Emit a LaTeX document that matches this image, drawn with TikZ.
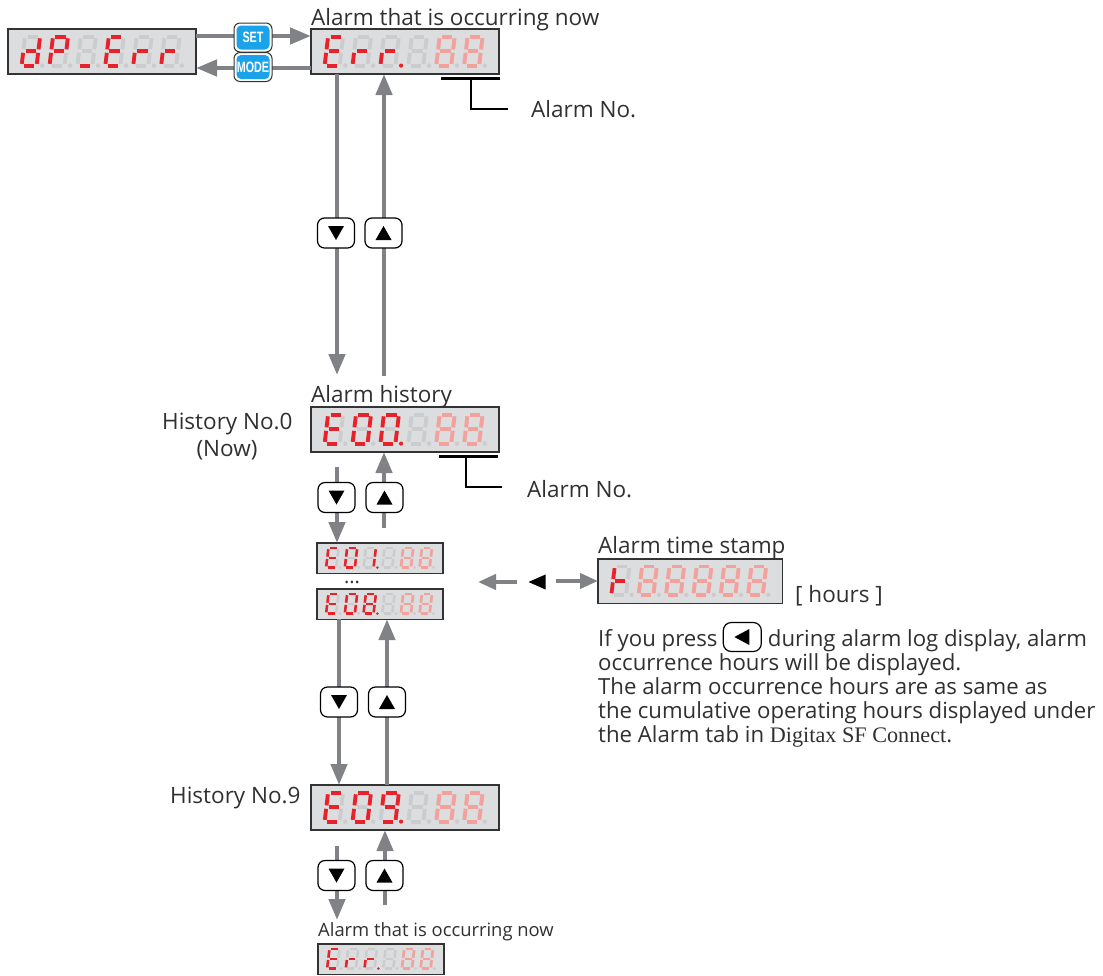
\documentclass[tikz,border=0pt]{standalone}
\usepackage{fontspec}
\setmainfont{Open Sans}
\newfontfamily\serifdg{Liberation Serif}
\newfontfamily\btnfont[FakeStretch=0.72]{Liberation Sans}
\usetikzlibrary{arrows.meta,calc}

\definecolor{segR}{HTML}{E8222A}
\definecolor{segP}{HTML}{F4A19C}
\definecolor{segN}{HTML}{CBCCCD}
\definecolor{dispbg}{HTML}{DCDDDE}
\definecolor{arrgray}{HTML}{808285}
\definecolor{btnblue}{HTML}{1AA3E8}
\definecolor{txt}{HTML}{303030}

\makeatletter
\def\seg@x#1{}
\def\seg@a#1{\draw[line width=\sd@T pt,#1] (0.16,1)--(0.84,1);}
\def\seg@b#1{\draw[line width=\sd@T pt,#1] (1,0.94)--(1,0.56);}
\def\seg@c#1{\draw[line width=\sd@T pt,#1] (1,0.44)--(1,0.06);}
\def\seg@d#1{\draw[line width=\sd@T pt,#1] (0.16,0)--(0.84,0);}
\def\seg@e#1{\draw[line width=\sd@T pt,#1] (0,0.44)--(0,0.06);}
\def\seg@f#1{\draw[line width=\sd@T pt,#1] (0,0.94)--(0,0.56);}
\def\seg@g#1{\draw[line width=\sd@T pt,#1] (0.16,0.5)--(0.84,0.5);}
\def\seg@p#1{\fill[#1] (1.38,0) circle[radius=0.55*\sd@T pt];}
\def\sd@loop#1{\ifx#1\relax\expandafter\@gobble\else\expandafter\@firstofone\fi
  {\csname seg@#1\endcsname{\sd@col}\sd@loop}}
\newcommand\sdigit[5]{%
  \begin{scope}[shift={(#1,#2)},x={(\sd@W pt,0pt)},y={(\sd@K pt,\sd@H pt)}]
    \foreach \q in {a,b,c,d,e,f,g,p}{\csname seg@\q\endcsname{segN}}
    \def\sd@col{#4}%
    \edef\sd@segs{#3}%
    \expandafter\sd@loop\sd@segs\relax
    \seg@p{#5}%
  \end{scope}}
\newcommand\sdisplay[5]{%
  \node[dispbox,minimum width=#4*188pt,minimum height=#4*45pt,anchor=north west] (#1) at (#2,#3) {};
  \pgfmathsetmacro\sd@W{15*#4}%
  \pgfmathsetmacro\sd@H{29*#4}%
  \pgfmathsetmacro\sd@K{3.5*#4}%
  \pgfmathsetmacro\sd@T{3.8*#4}%
  \pgfmathsetmacro\sd@pitch{27.9*#4}%
  \pgfmathsetmacro\sd@x{#2+13.6*#4}%
  \pgfmathsetmacro\sd@y{#3+36.6*#4}%
  \foreach \dS/\dC/\dD [count=\di from 0] in {#5}{%
    \pgfmathsetmacro\sd@xx{\sd@x+\di*\sd@pitch}%
    \sdigit{\sd@xx}{\sd@y}{\dS}{\dC}{\dD}}%
}
\makeatother

\newcommand\tridown[1]{\fill[black] ($(#1)+(-8,-7)$) -- ($(#1)+(8,-7)$) -- ($(#1)+(0,7)$) -- cycle;}
\newcommand\triup[1]{\fill[black] ($(#1)+(-8,7)$) -- ($(#1)+(8,7)$) -- ($(#1)+(0,-7)$) -- cycle;}
\newcommand\trileft[1]{\fill[black] ($(#1)+(7,-8)$) -- ($(#1)+(7,8)$) -- ($(#1)+(-8,0)$) -- cycle;}

\begin{document}
\begin{tikzpicture}[x=1pt,y=-1pt,
  dispbox/.style={draw=black!80,line width=1.2pt,fill=dispbg,inner sep=0pt,outer sep=0pt},
  garrow/.style={draw=arrgray,line width=4.5pt,-{Triangle[length=21pt,width=16pt]}},
  garrowb/.style={draw=arrgray,line width=4pt,-{Triangle[length=18pt,width=15pt]}},
  keybtn/.style={draw=black,line width=1.2pt,fill=white,rounded corners=7pt,minimum width=37pt,minimum height=30pt,inner sep=0pt},
  bluebtnout/.style={draw=black!80,line width=1pt,fill=white,rounded corners=6pt,minimum width=38pt,minimum height=29pt,inner sep=0pt},
  bluebtnin/.style={fill=btnblue,rounded corners=4.5pt,minimum width=33pt,minimum height=24pt,inner sep=0pt,text=white,font=\btnfont\bfseries\fontsize{15}{15}\selectfont},
  lbl/.style={font=\fontsize{22.5}{27}\selectfont,text=txt,inner sep=0pt,anchor=base west},
  para/.style={font=\fontsize{22.2}{24}\selectfont,text=txt,inner sep=0pt,anchor=base west},
  thick bar/.style={draw=black,line width=3pt},
  thin bar/.style={draw=black,line width=1.3pt}]
\useasboundingbox (0,0) rectangle (1103,975);

% displays
\sdisplay{d1}{8}{29}{1}{bcdeg/segR/segN,abefg/segR/segN,d/segR/segN,adefg/segR/segN,eg/segR/segN,eg/segR/segN}
\sdisplay{d2}{311}{29}{1}{adefg/segR/segN,eg/segR/segN,eg/segR/segR,x/segN/segN,abcdefg/segP/segN,abcdefg/segP/segN}
\sdisplay{d3}{311}{407}{1}{adefg/segR/segN,abcdef/segR/segN,abcdef/segR/segR,x/segN/segN,abcdefg/segP/segN,abcdefg/segP/segN}
\sdisplay{d4}{317}{543}{0.67}{adefg/segR/segN,abcdef/segR/segN,bc/segR/segR,x/segN/segN,abcdefg/segP/segN,abcdefg/segP/segN}
\sdisplay{d5}{317}{589}{0.67}{adefg/segR/segN,abcdef/segR/segN,abcdefg/segR/segR,x/segN/segN,abcdefg/segP/segN,abcdefg/segP/segN}
\sdisplay{d6}{311}{785}{1}{adefg/segR/segN,abcdef/segR/segN,abcdfg/segR/segR,x/segN/segN,abcdefg/segP/segN,abcdefg/segP/segN}
\sdisplay{d7}{598}{559}{0.98}{efg/segR/segN,abcdefg/segP/segN,abcdefg/segP/segN,abcdefg/segP/segN,abcdefg/segP/segN,abcdefg/segP/segN}
\sdisplay{d8}{318}{944}{0.67}{adefg/segR/segN,eg/segR/segN,eg/segR/segR,x/segN/segN,abcdefg/segP/segN,abcdefg/segP/segN}

% SET / MODE arrows
\draw[garrow] ($(d1.north east)+(0,7)$) -- ($(d2.north west)+(0,7)$);
\draw[garrow] ($(d2.south west)+(0,-6)$) -- ($(d1.south east)+(0,-6)$);
\node[bluebtnout] (setout) at (253,37.5) {};
\node[bluebtnin] (setbtn) at (setout.center) {SET};
\node[bluebtnout] (modeout) at (253,67) {};
\node[bluebtnin] (modebtn) at (modeout.center) {MODE};

% group A
\coordinate (a1) at (337,375);
\coordinate (a2) at (384,376);
\draw[garrow] (d2.south -| a1) -- (a1);
\draw[garrow] (a2) -- (d2.south -| a2);
\node[keybtn] (ka1) at (336,233) {};
\tridown{ka1}
\node[keybtn] (ka2) at (383.5,233) {};
\triup{ka2}

% group B
\coordinate (b1) at (337,467);
\coordinate (b2) at (384,528);
\draw[garrow] (b1) -- (b1 |- d4.north);
\draw[garrow] (b2) -- (b2 |- d3.south);
\node[keybtn] (kb1) at (336.5,497.5) {};
\tridown{kb1}
\node[keybtn] (kb2) at (384.5,497.5) {};
\triup{kb2}

% group C
\coordinate (c1) at (339,0);
\coordinate (c2) at (387,0);
\draw[garrow] (d5.south -| c1) -- (d6.north -| c1);
\draw[garrow] (d6.north -| c2) -- (d5.south -| c2);
\node[keybtn] (kc1) at (339,702) {};
\tridown{kc1}
\node[keybtn] (kc2) at (387,702) {};
\triup{kc2}

% group D
\coordinate (e1) at (337,846);
\coordinate (e1t) at (337,920);
\coordinate (e2) at (385,905);
\draw[garrow] (e1) -- (e1t);
\draw[garrow] (e2) -- (e2 |- d6.south);
\node[keybtn] (kd1) at (336.5,875.5) {};
\tridown{kd1}
\node[keybtn] (kd2) at (384.5,875.5) {};
\triup{kd2}

% time stamp row
\coordinate (tl1) at (517,582);
\coordinate (tl2) at (478,582);
\draw[garrowb] (tl1) -- (tl2);
\coordinate (tr1) at (556,581);
\draw[garrowb] (tr1) -- (tr1 -| d7.west);
\coordinate (tri) at (537,582);
\fill[black] ($(tri)+(8.5,-7.5)$) -- ($(tri)+(8.5,7.5)$) -- ($(tri)+(-8.5,0)$) -- cycle;

% Alarm No. brackets
\coordinate (n1a) at (441,78);
\coordinate (n1b) at (500,78);
\coordinate (n1c) at (471,78);
\coordinate (n1d) at (508,109);
\draw[thick bar] (n1a) -- (n1b);
\draw[thin bar] (n1c) |- (n1d);
\coordinate (n2a) at (439,456);
\coordinate (n2b) at (498,456);
\coordinate (n2c) at (466,456);
\coordinate (n2d) at (502,487);
\draw[thick bar] (n2a) -- (n2b);
\draw[thin bar] (n2c) |- (n2d);

% labels
\node[lbl] (t1) at (311,25) {Alarm that is occurring now};
\node[lbl] (t2) at (531,117) {Alarm No.};
\node[lbl] (t3) at (311,402) {Alarm history};
\node[lbl] (t4) at (162,429) {History No.0};
\node[lbl,anchor=base] (t5) at (227,456) {(Now)};
\node[lbl] (t6) at (527,497) {Alarm No.};
\node[lbl] (t7) at (598,553) {Alarm time stamp};
\node[lbl] (t8) at (795,602) {[ hours ]};
\node[lbl] (t9) at (170,803) {History No.9};
\node[lbl,font=\fontsize{18.4}{22}\selectfont] (t10) at (318,936) {Alarm that is occurring now};
\node[font=\fontsize{20}{20}\selectfont,text=txt,inner sep=0pt,anchor=base] (dots) at (352,583) {...};

% paragraph
\node[para] (p1) at (598,646) {If you press};
\node[draw=black,line width=1.2pt,fill=white,rounded corners=8pt,minimum width=38pt,minimum height=29pt,inner sep=0pt,anchor=west] (kp) at ($(p1.base east)+(5,-9)$) {};
\trileft{kp}
\node[para] (p1b) at ($(p1.base east)+(50,0)$) {during alarm log display, alarm};
\node[para] (p2) at (598,670) {occurrence hours will be displayed.};
\node[para] (p3) at (598,694) {The alarm occurrence hours are as same as};
\node[para] (p4) at (598,718) {the cumulative operating hours displayed under};
\node[para] (p5) at (598,742) {the Alarm tab in {\serifdg Digitax SF Connect}.};
\end{tikzpicture}
\end{document}
